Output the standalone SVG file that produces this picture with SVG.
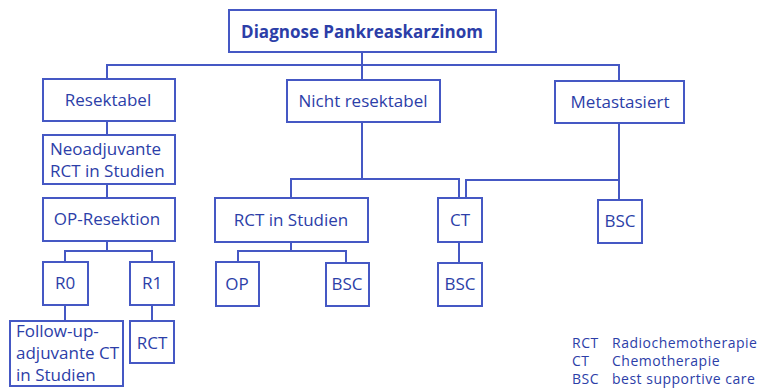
<svg xmlns="http://www.w3.org/2000/svg" width="769" height="388" viewBox="0 0 769 388">
  <style>
    .box { fill: #ffffff; stroke: #4558c4; stroke-width: 2; }
    .wire { fill: none; stroke: #4558c4; stroke-width: 2; }
    text { font-family: "Open Sans", "Noto Sans", sans-serif; fill: #2c3ea8; font-size: 17px; }
    .c { text-anchor: middle; }
    .title { font-weight: bold; font-size: 17px; }
    .legend { font-size: 14px; letter-spacing: 0.5px; }
  </style>
  <rect width="769" height="388" fill="#ffffff"/>

  <g id="connectors">
    <!-- root to three branches -->
    <path class="wire" d="M362 52 V80 M107 79 V65 H619 V81"/>
    <!-- Resektabel column -->
    <path class="wire" d="M107 121 V135 M107 184 V198 M107 241 V251 M65 262 V251 H152 V262 M65 305 V321 M152 305 V321"/>
    <!-- Nicht resektabel -->
    <path class="wire" d="M362 122 V179 M291 198 V179 H459 V198"/>
    <path class="wire" d="M291 242 V251 M238 262 V251 H346 V263"/>
    <path class="wire" d="M459 242 V263"/>
    <!-- Metastasiert -->
    <path class="wire" d="M619 123 V200 M466 198 V180 H619"/>
  </g>

  <g id="n-diagnose">
    <rect class="box" x="229" y="10" width="267" height="42"/>
    <text class="c title" x="362" y="38">Diagnose Pankreaskarzinom</text>
  </g>
  <g id="n-resektabel">
    <rect class="box" x="43" y="79" width="132" height="42"/>
    <text class="c" x="108" y="106">Resektabel</text>
  </g>
  <g id="n-nicht-resektabel">
    <rect class="box" x="287" y="80" width="153" height="42"/>
    <text class="c" x="363" y="107">Nicht resektabel</text>
  </g>
  <g id="n-metastasiert">
    <rect class="box" x="555" y="81" width="129" height="42"/>
    <text class="c" x="620" y="108">Metastasiert</text>
  </g>
  <g id="n-neoadjuvant">
    <rect class="box" x="43" y="135" width="132" height="49"/>
    <text x="50" y="155">Neoadjuvante</text>
    <text x="50" y="177">RCT in Studien</text>
  </g>
  <g id="n-op-resektion">
    <rect class="box" x="43" y="198" width="132" height="43"/>
    <text class="c" x="107" y="225">OP-Resektion</text>
  </g>
  <g id="n-r0">
    <rect class="box" x="43" y="262" width="45" height="43"/>
    <text class="c" x="65" y="289">R0</text>
  </g>
  <g id="n-r1">
    <rect class="box" x="130" y="262" width="44" height="43"/>
    <text class="c" x="152" y="289">R1</text>
  </g>
  <g id="n-follow-up">
    <rect class="box" x="10" y="321" width="113" height="65"/>
    <text x="16" y="337">Follow-up-</text>
    <text x="16" y="359">adjuvante CT</text>
    <text x="16" y="381">in Studien</text>
  </g>
  <g id="n-rct-r1">
    <rect class="box" x="130" y="321" width="44" height="42"/>
    <text class="c" x="152" y="349">RCT</text>
  </g>
  <g id="n-rct-studien">
    <rect class="box" x="215" y="198" width="153" height="44"/>
    <text class="c" x="291" y="226">RCT in Studien</text>
  </g>
  <g id="n-op">
    <rect class="box" x="216" y="262" width="43" height="44"/>
    <text class="c" x="237" y="290">OP</text>
  </g>
  <g id="n-bsc-nr">
    <rect class="box" x="326" y="263" width="43" height="43"/>
    <text class="c" x="347" y="290">BSC</text>
  </g>
  <g id="n-ct">
    <rect class="box" x="438" y="198" width="44" height="44"/>
    <text class="c" x="460" y="226">CT</text>
  </g>
  <g id="n-bsc-ct">
    <rect class="box" x="438" y="263" width="44" height="43"/>
    <text class="c" x="460" y="290">BSC</text>
  </g>
  <g id="n-bsc-met">
    <rect class="box" x="598" y="200" width="44" height="43"/>
    <text class="c" x="620" y="227">BSC</text>
  </g>

  <g id="legend">
    <text class="legend" x="572" y="348">RCT</text>
    <text class="legend" x="612" y="348">Radiochemotherapie</text>
    <text class="legend" x="572" y="366">CT</text>
    <text class="legend" x="612" y="366">Chemotherapie</text>
    <text class="legend" x="572" y="384">BSC</text>
    <text class="legend" x="612" y="384">best supportive care</text>
  </g>
</svg>
